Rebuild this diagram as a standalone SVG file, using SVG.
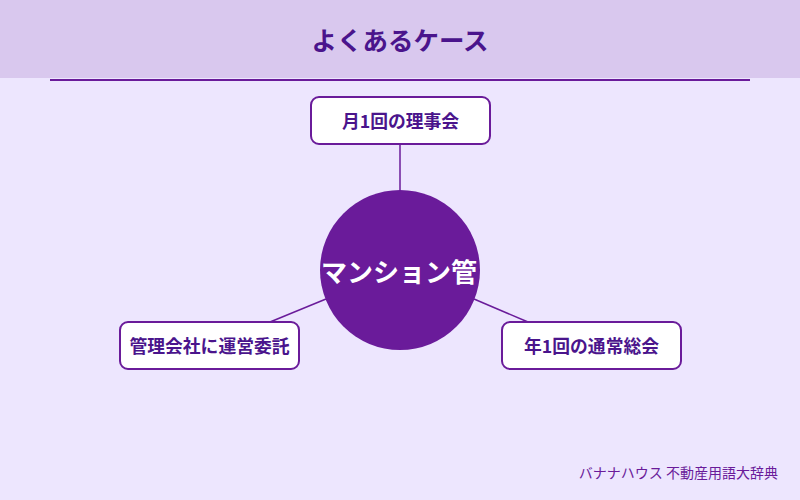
<svg xmlns="http://www.w3.org/2000/svg" width="800" height="500" viewBox="0 0 800 500">
<style>
text{font-family:"Noto Sans CJK JP","Noto Sans",sans-serif}
.box{fill:#ffffff;stroke:#6a1b9a;stroke-width:2}
.lbl{font-size:17.8px;font-weight:bold;fill:#4a148c;text-anchor:middle;dominant-baseline:central}
.con{stroke:#6a1b9a;stroke-width:1.5;fill:none}
</style>
<rect x="0" y="0" width="800" height="500" fill="#ede6fe"/>
<rect x="0" y="0" width="800" height="78" fill="#d9c8ee"/>
<text x="400" y="38" font-size="25.5" font-weight="bold" fill="#4a148c" text-anchor="middle" dominant-baseline="central">よくあるケース</text>
<line x1="50" y1="80" x2="750" y2="80" stroke="#6a1b9a" stroke-width="2"/>
<g id="connectors">
<line class="con" x1="400" y1="144" x2="400" y2="192"/>
<line class="con" x1="326" y1="299" x2="270" y2="322"/>
<line class="con" x1="474" y1="299" x2="528" y2="322"/>
</g>
<g id="center">
<circle cx="400" cy="270" r="80" fill="#6a1b9a"/>
<text x="399" y="270" font-size="26" font-weight="bold" fill="#ffffff" text-anchor="middle" dominant-baseline="central">マンション管</text>
</g>
<g id="node-top">
<rect class="box" x="311" y="97" width="179" height="47" rx="8"/>
<text class="lbl" x="400.5" y="120">月1回の理事会</text>
</g>
<g id="node-left">
<rect class="box" x="120" y="322" width="179" height="47" rx="8"/>
<text class="lbl" x="209.5" y="345">管理会社に運営委託</text>
</g>
<g id="node-right">
<rect class="box" x="502" y="322" width="179" height="47" rx="8"/>
<text class="lbl" x="591.5" y="345">年1回の通常総会</text>
</g>
<text x="778" y="478" font-size="14" fill="#6a1b9a" text-anchor="end">バナナハウス 不動産用語大辞典</text>
</svg>
